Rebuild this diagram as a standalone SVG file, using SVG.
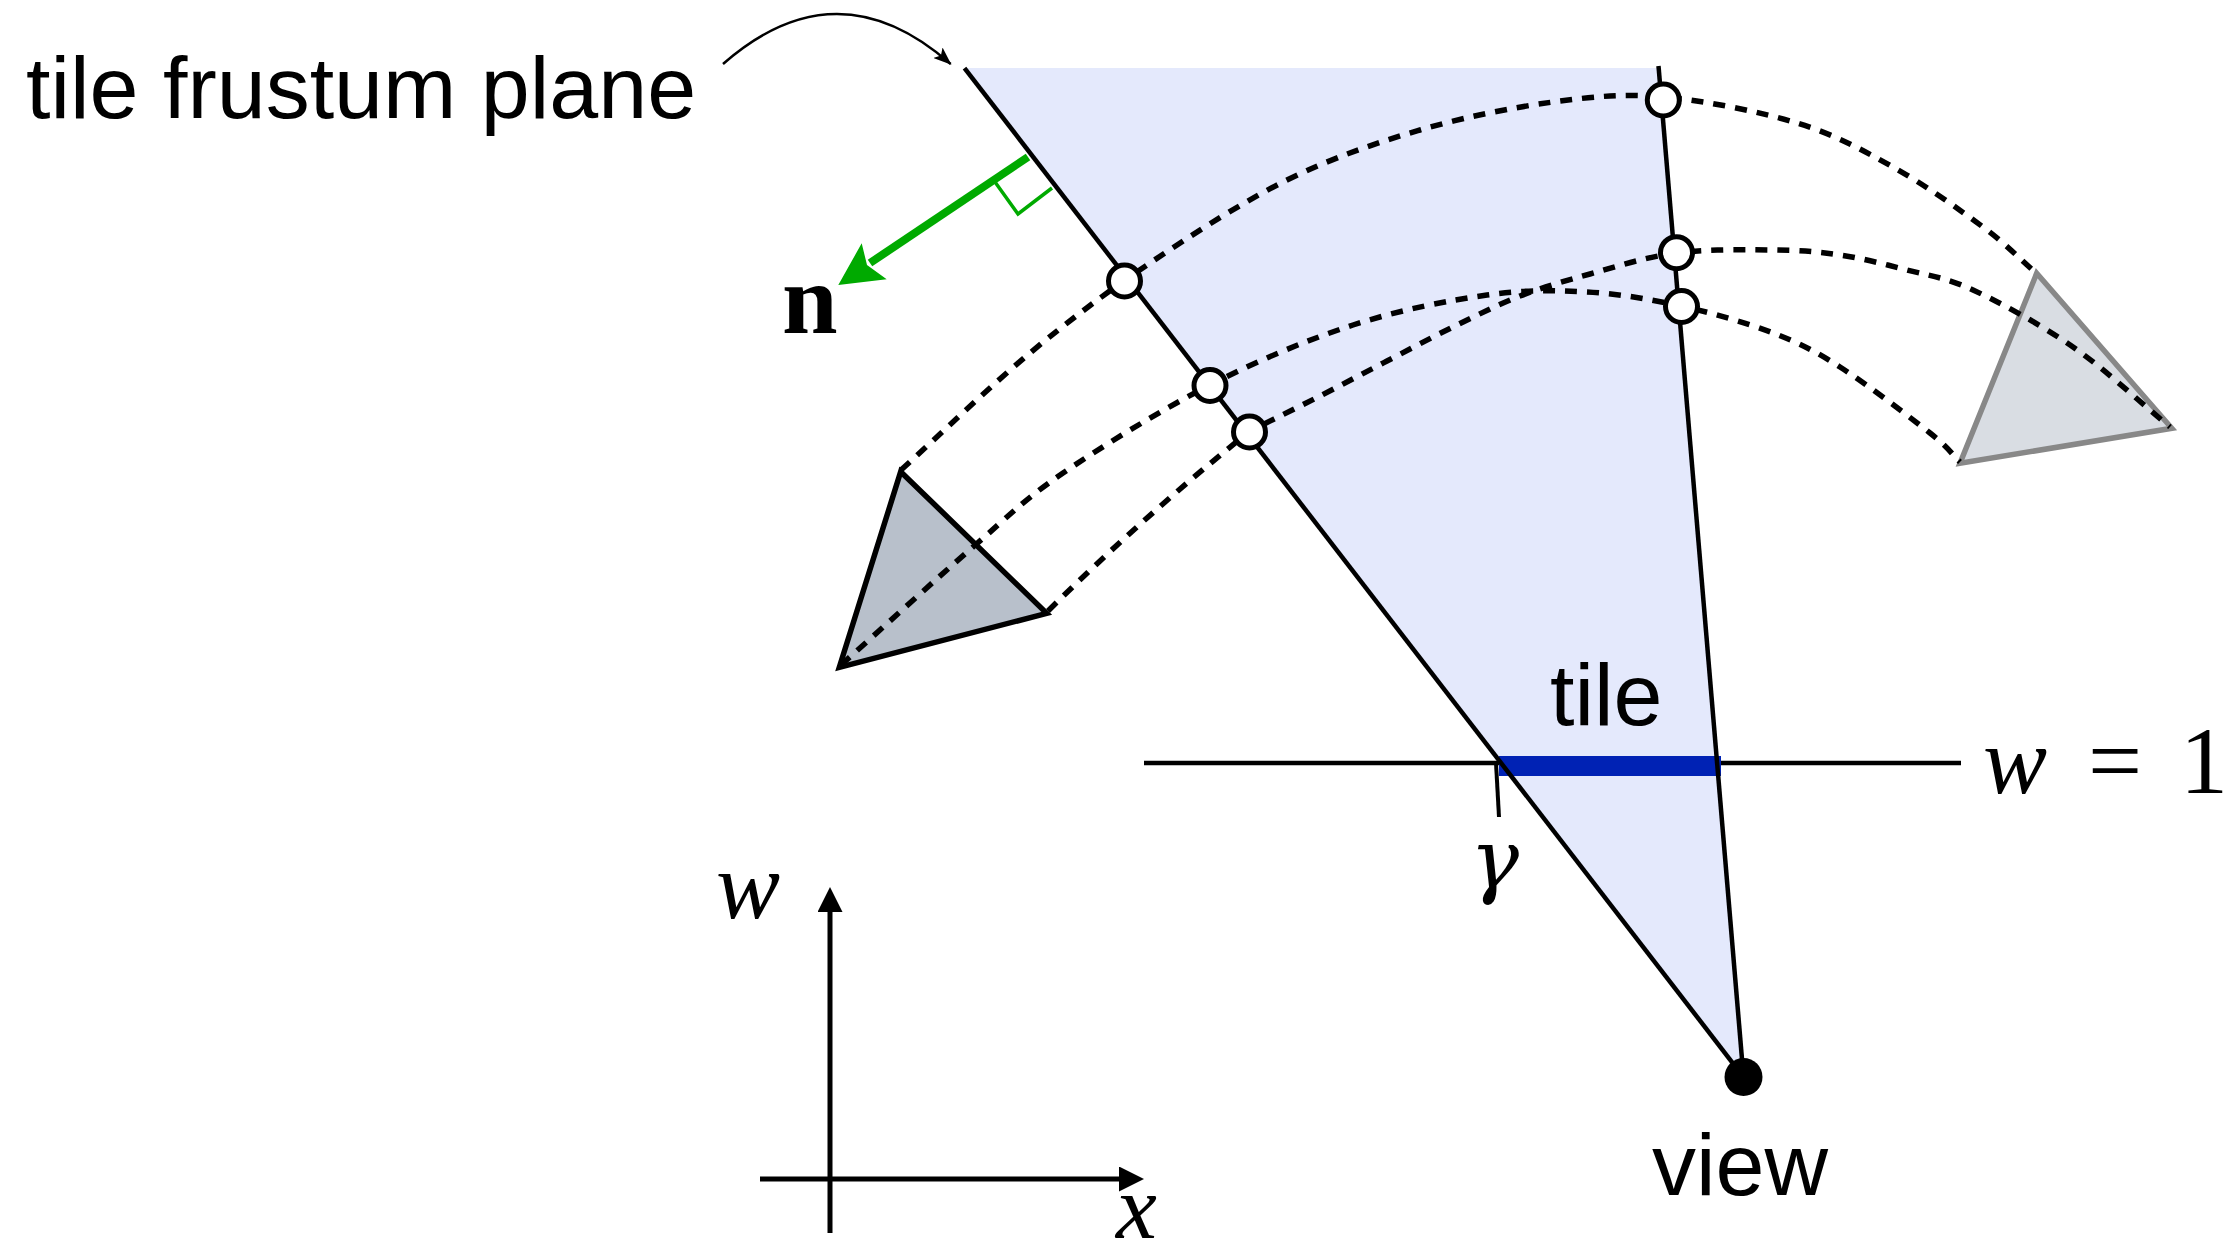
<svg xmlns="http://www.w3.org/2000/svg" width="2230" height="1256" viewBox="0 0 2230 1256">
<style>
.sans{font-family:"Liberation Sans",Arial,sans-serif;font-size:88px;fill:#000}
.math{font-family:"Liberation Serif","Times New Roman",serif;font-style:italic;font-size:96px;fill:#000}
.mathr{font-family:"Liberation Serif","Times New Roman",serif;font-size:96px;fill:#000}
.edge{stroke:#000;stroke-width:4.5;fill:none}
.dash{stroke:#000;stroke-width:5.5;fill:none;stroke-dasharray:12 10}
.pt{fill:#fff;stroke:#000;stroke-width:5}
.axis{stroke:#000;stroke-width:5;fill:none}
</style>
<defs>
<marker id="axisHead" viewBox="0 0 25 25" refX="5" refY="12.5" markerWidth="25" markerHeight="25" markerUnits="userSpaceOnUse" orient="auto">
<path d="M0,0 L25,12.5 L0,25 z" fill="#000"/>
</marker>
<marker id="smallHead" viewBox="0 0 18 14" refX="17" refY="7" markerWidth="18" markerHeight="14" markerUnits="userSpaceOnUse" orient="auto">
<path d="M0,0 L18,7 L0,14 L4,7 z" fill="#000"/>
</marker>
</defs>
<rect width="2230" height="1256" fill="#fff"/>

<g id="frustum">
<polygon points="964.5,68 1659,68 1743.5,1077" fill="#e4e9fc"/>
</g>

<g id="triangle-left">
<polygon points="900.7,471.7 1046.7,613.3 839.3,667.3" fill="#b8c0cb" stroke="#000" stroke-width="5.5" stroke-linejoin="miter"/>
</g>
<g id="triangle-right">
<polygon points="2036.7,273.3 2171.8,428.3 1960,463.3" fill="#d9dde3" stroke="#888" stroke-width="5.5"/>
</g>

<g id="tile-bar">
<line x1="1144" y1="763" x2="1961" y2="763" class="edge"/>
<rect x="1499" y="756" width="222" height="20" fill="#0022b4"/>
<line x1="1496" y1="763" x2="1499" y2="817" stroke="#000" stroke-width="4"/>
</g>

<g id="connectors">
<path class="dash" d="M901,470 C944,431 988.5,387.5 1030,353 C1071.5,318.5 1107.2,291.8 1150,263 C1192.8,234.2 1242,202.2 1287,180 C1332,157.8 1375.7,143 1420,130 C1464.3,117 1512.5,107.5 1553,102 C1593.5,96.5 1622.3,93.5 1663,97 C1703.7,100.5 1758.7,111.3 1797,123 C1835.3,134.7 1862,149.7 1893,167 C1924,184.3 1959.2,209.3 1983,227 C2006.8,244.7 2018.3,257.7 2036,273"/>
<path class="dash" d="M841,665 C885,625.7 936,579 973,547 C1010,515 1023.5,500 1063,473 C1102.5,446 1161.7,409.7 1210,385 C1258.3,360.3 1306.8,340 1353,325 C1399.2,310 1448,300.5 1487,295 C1526,289.5 1554.7,290.2 1587,292 C1619.3,293.8 1650,299.2 1681,306 C1712,312.8 1746.5,322.8 1773,333 C1799.5,343.2 1813.8,350.3 1840,367 C1866.2,383.7 1910,417.2 1930,433 C1950,448.8 1950,452.3 1960,462"/>
<path class="dash" d="M1048,611 Q1145,515 1250,431 C1273.3,419.3 1297.2,407.7 1320,396 C1342.8,384.3 1364.8,372.5 1387,361 C1409.2,349.5 1430.8,337.8 1453,327 C1475.2,316.2 1497.2,304.8 1520,296 C1542.8,287.2 1564,281.2 1590,274 C1616,266.8 1645.5,257 1676,253 C1706.5,249 1745.7,249.7 1773,250 C1800.3,250.3 1817.7,251.7 1840,255 C1862.3,258.3 1884.8,264.2 1907,270 C1929.2,275.8 1945.3,277.2 1973,290 C2000.7,302.8 2040.2,324.2 2073,347 C2105.8,369.8 2137.7,400.3 2170,427"/>
<path d="M723,64 Q837,-36 950.7,64" fill="none" stroke="#000" stroke-width="2.5" marker-end="url(#smallHead)"/>
<line x1="1028" y1="157" x2="870" y2="263" stroke="#00aa00" stroke-width="8"/>
<polygon points="838.3,285 861.7,243.3 867,265 886.7,279.3" fill="#00aa00"/>
<polyline points="995,182 1018,214 1052,188" fill="none" stroke="#00aa00" stroke-width="3.5"/>
</g>

<g id="frustum-edges">
<line x1="964.5" y1="68" x2="1743.5" y2="1077" class="edge"/>
<line x1="1658.5" y1="66" x2="1743.5" y2="1077" class="edge"/>
</g>

<g id="intersections">
<circle cx="1124.5" cy="281" r="16" class="pt"/>
<circle cx="1210" cy="385.5" r="16" class="pt"/>
<circle cx="1249.5" cy="432" r="16" class="pt"/>
<circle cx="1663.3" cy="100" r="16" class="pt"/>
<circle cx="1676.5" cy="252.7" r="16" class="pt"/>
<circle cx="1681.5" cy="306.5" r="16" class="pt"/>
</g>

<g id="view">
<circle cx="1743.5" cy="1077" r="19" fill="#000"/>
<text class="sans" x="1652" y="1195">view</text>
</g>

<g id="axes">
<line x1="830" y1="1233" x2="830" y2="907" class="axis" marker-end="url(#axisHead)"/>
<line x1="760" y1="1179" x2="1124" y2="1179" class="axis" marker-end="url(#axisHead)"/>
<text class="math" x="716" y="918">w</text>
<text class="math" x="1116" y="1238" style="font-size:92px">x</text>
</g>

<g id="labels">
<text class="sans" x="26" y="118">tile frustum plane</text>
<text class="sans" x="1550" y="725">tile</text>
<text x="782" y="333" style="font-family:'Liberation Serif','Times New Roman',serif;font-weight:bold;font-size:100px">n</text>
<text x="1470" y="888" style="font-family:'DejaVu Serif',serif;font-style:italic;font-size:82px">γ</text>
<text class="math" x="1983" y="793">w</text>
<text class="mathr" x="2088" y="793">=</text>
<text class="mathr" x="2180" y="793">1</text>
</g>
</svg>
